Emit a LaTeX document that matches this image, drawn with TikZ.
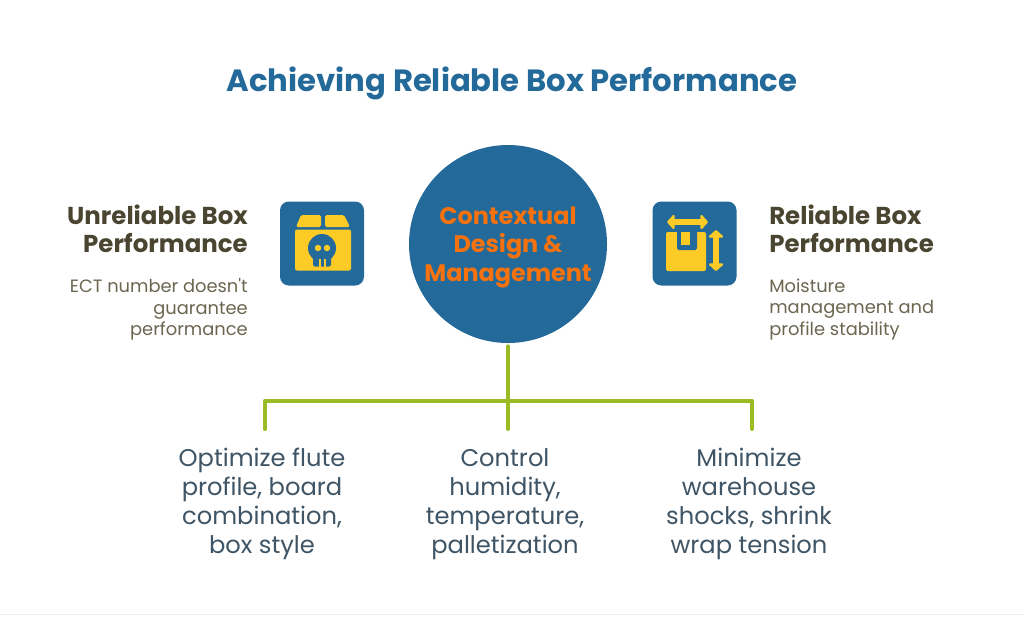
\documentclass[tikz,border=0pt]{standalone}
\usepackage{fontspec}
\setmainfont{Poppins}[Ligatures=TeXOff]
\usepackage{tikz}
\usetikzlibrary{positioning,arrows.meta}
\definecolor{boxblue}{HTML}{236A9A}
\definecolor{boxyellow}{HTML}{FDCB26}
\definecolor{boxorange}{HTML}{F5720F}
\definecolor{boxgreen}{HTML}{9BBB24}
\definecolor{headtext}{HTML}{4A4530}
\definecolor{smalltext}{HTML}{6B6650}
\definecolor{steptext}{HTML}{3F5566}
\tikzset{
  iconbox/.style={rectangle,rounded corners=2.2mm,fill=boxblue,minimum width=21mm,minimum height=21mm,inner sep=0pt},
  headlabel/.style={font=\fontsize{17.4}{20.3}\selectfont\bfseries,text=headtext,inner sep=0pt},
  smalllabel/.style={font=\fontsize{12.7}{15.4}\selectfont,text=smalltext,inner sep=0pt},
  steplabel/.style={font=\fontsize{17.2}{20.6}\selectfont,text=steptext,inner sep=0pt,align=center,anchor=north},
  branch/.style={draw=boxgreen,line width=1mm,line cap=round,line join=round},
  yellowarrow/.style={draw=boxyellow,line width=1.3mm,{Triangle[round,length=2mm,width=4.2mm]}-{Triangle[round,length=2mm,width=4.2mm]}}
}
\begin{document}
\begin{tikzpicture}[x=0.25mm,y=-0.25mm]
\useasboundingbox (0,0) rectangle (1024,616);

\fill[white] (0,0) rectangle (1024,616);
\draw[black!6,line width=0.25mm] (0,614.5)--(1024,614.5);

\node (title) at (512,83) [inner sep=0pt,text=boxblue,font=\fontsize{21.85}{24}\selectfont\bfseries] {Achieving Reliable Box Performance};

\node (hub) at (508,244) [circle,fill=boxblue,minimum size=49.5mm,inner sep=0pt] {};
\node (hubtext) at (508,247) [inner sep=0pt,align=center,text=boxorange,font=\fontsize{17}{20.3}\selectfont\bfseries] {Contextual\\Design \&\\Management};

% left side
\node (badbox) at (322,243.5) [iconbox] {};
\node (badhead) at (248,229) [headlabel,align=right,anchor=east] {Unreliable Box\\Performance};
\node (badtext) at (248,309.5) [smalllabel,align=right,anchor=east] {ECT number doesn't\\guarantee\\performance};

% skull on the box
\fill[boxyellow,rounded corners=0.4mm] (296,227)--(301,215)--(321,215)--(321,227)--cycle;
\fill[boxyellow,rounded corners=0.4mm] (325,215)--(344,215)--(350,227)--(325,227)--cycle;
\fill[boxyellow,rounded corners=0.5mm] (295,229.5) rectangle (351,270.5);
\fill[boxblue] (322,248) circle (14);
\fill[boxblue,rounded corners=0.4mm] (313,252) rectangle (331,266.5);
\fill[boxyellow] (318,248) circle (3.2);
\fill[boxyellow] (327,248) circle (3.2);
\fill[boxyellow] (318.5,259) rectangle (320.5,267);
\fill[boxyellow] (323.5,259) rectangle (325.5,267);

% right side
\node (goodbox) at (694.5,243.5) [iconbox] {};
\node (goodhead) at (769,229) [headlabel,align=left,anchor=west] {Reliable Box\\Performance};
\node (goodtext) at (769,309.5) [smalllabel,align=left,anchor=west] {Moisture\\management and\\profile stability};

% package with arrows
\draw[yellowarrow] (667,222)--(708,222);
\draw[yellowarrow] (716,230)--(716,271);
\fill[boxyellow,rounded corners=0.5mm] (666,232) rectangle (706,271);
\fill[boxblue,rounded corners=0.4mm] (677,230) rectangle (697,250);
\fill[boxyellow] (681,232) rectangle (690,245);

% branches
\coordinate (mid) at (508,400.5);
\coordinate (leftend) at (265,429);
\coordinate (midend) at (508,429);
\coordinate (rightend) at (752,429);
\draw[branch,shorten <=0.75mm] (hub)--(midend);
\draw[branch] (leftend)--(leftend|-mid)--(rightend|-mid)--(rightend);

\node (stepa) at (262,448) [steplabel] {Optimize flute\\profile, board\\combination,\\box style};
\node (stepb) at (505,448) [steplabel] {Control\\humidity,\\temperature,\\palletization};
\node (stepc) at (749,448) [steplabel] {Minimize\\warehouse\\shocks, shrink\\wrap tension};

\end{tikzpicture}
\end{document}
